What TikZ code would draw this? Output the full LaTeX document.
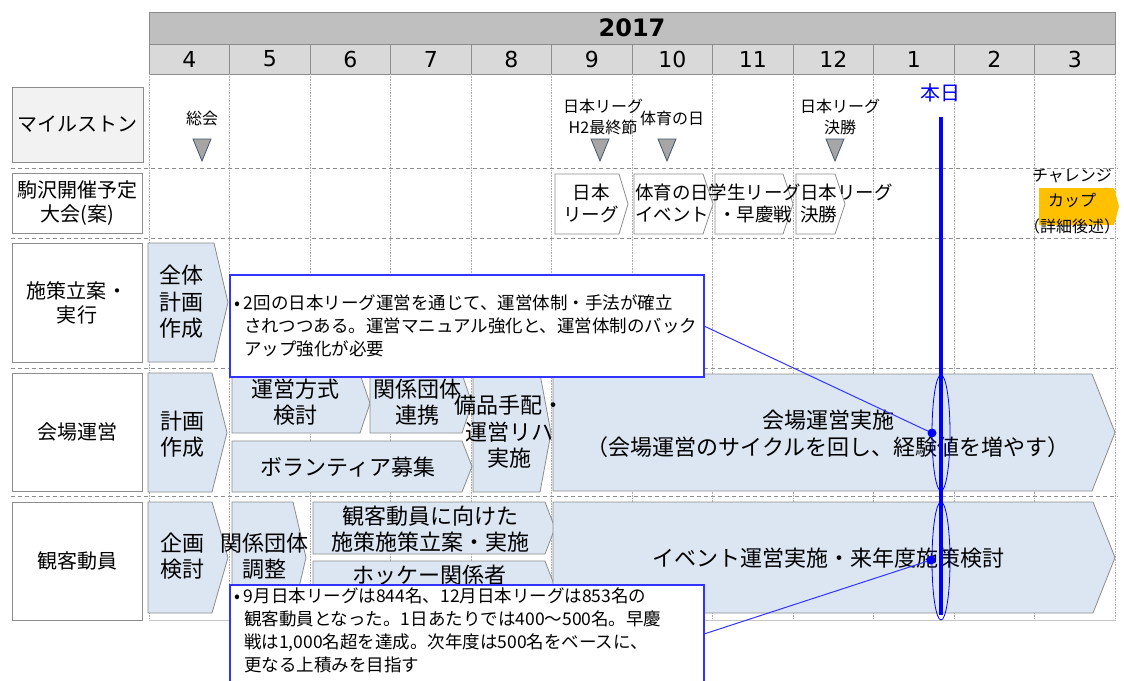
\documentclass[tikz,border=0pt]{standalone}
\usepackage{fontspec}
\setmainfont{Noto Sans CJK JP}
\newfontfamily\numfont{DejaVu Sans}
\usepackage{tikz}
\usetikzlibrary{positioning,shapes.geometric}

\definecolor{yearfill}{HTML}{BFBFBF}
\definecolor{monthfill}{HTML}{D9D9D9}
\definecolor{framegray}{HTML}{8C8C8C}
\definecolor{phasefill}{HTML}{DCE6F2}
\definecolor{cupfill}{HTML}{FFC000}
\definecolor{marker}{HTML}{A6A6A6}
\definecolor{markerline}{HTML}{44546A}
\definecolor{calloutblue}{HTML}{3333FF}

\newcommand{\fs}[2]{\fontsize{#1}{#2}\selectfont}
% bar with a pointed right end: [style]{x}{y}{width}{height}{tip depth}
\newcommand{\phasebar}[6][phase]{%
  \draw[#1] (#2,#3) -- ++({#4-#6},0) -- ++(#6,{#5/2}) -- ++(-#6,{#5/2}) -- ++({#6-#4},0) -- cycle;}

\begin{document}
\begin{tikzpicture}[x=1pt, y=-1pt, every node/.style={inner sep=0pt, outer sep=0pt}]
        \tikzstyle{yearcell}=[rectangle, draw=framegray, fill=yearfill, minimum width=966pt, minimum height=32pt, font=\numfont\bfseries\fs{24}{24}];
        \tikzstyle{monthcell}=[rectangle, draw=framegray, fill=monthfill, minimum width=80.5pt, minimum height=30pt, font=\numfont\fs{22}{22}];
        \tikzstyle{rowlabel}=[rectangle, draw=framegray, line width=0.8pt, anchor=north west, align=center, font=\fs{20}{24}];
        \tikzstyle{gridline}=[framegray!70, densely dotted, line width=0.6pt];
        \tikzstyle{rowsep}=[framegray, dash pattern=on 4pt off 3pt, line width=0.8pt];
        \tikzstyle{phase}=[draw=framegray, fill=phasefill, line width=0.8pt];
        \tikzstyle{eventbar}=[draw=framegray, fill=white, line width=0.8pt];
        \tikzstyle{cupbar}=[draw=none, fill=cupfill];
        \tikzstyle{phasetext}=[align=center, font=\fs{22}{26.5}];
        \tikzstyle{eventtext}=[align=center, font=\fs{18.5}{22}];
        \tikzstyle{stonetext}=[align=center, font=\fs{16}{21}];
        \tikzstyle{stone}=[draw=markerline, fill=marker, line width=0.8pt];
        \tikzstyle{callout}=[rectangle, draw=calloutblue, fill=white, line width=1.2pt, anchor=north west, align=left, inner xsep=4pt, inner ysep=3pt, font=\fs{17.5}{23}];
        \tikzstyle{focus}=[ellipse, draw=blue, line width=0.8pt, minimum width=18pt];
        \tikzstyle{link}=[calloutblue, line width=1pt];

        \useasboundingbox (0,0) rectangle (1124,680);

        % header
        \node [yearcell] (year) at (632,28) {2017};
        \foreach \m [count=\i from 0] in {4,5,6,7,8,9,10,11,12,1,2,3}
            \node [monthcell] (mon\i) at ({149+80.5*\i+40.25},59) {\m};

        % grid
        \foreach \i in {0,...,12}
            \draw [gridline] ({149+80.5*\i},74) -- ({149+80.5*\i},620);
        \draw [framegray!50, line width=0.8pt] (149,620) -- (1115,620);
        \foreach \y in {168,238,368,496}
            \draw [rowsep] (11,\y) -- (1118,\y);

        % row labels
        \node [rowlabel, fill=black!5, minimum width=131pt, minimum height=75pt] (milestone) at (12,87) {マイルストン};
        \node [rowlabel, minimum width=130pt, minimum height=60pt] (venues) at (12,173) {駒沢開催予定\\大会(案)};
        \node [rowlabel, minimum width=130pt, minimum height=119pt] (planning) at (12,243) {施策立案・\\実行};
        \node [rowlabel, minimum width=130pt, minimum height=118pt] (venueops) at (12,373) {会場運営};
        \node [rowlabel, minimum width=130pt, minimum height=118pt] (audience) at (12,502) {観客動員};

        % milestones
        \foreach \x in {202,600,667,835}
            \draw [stone] ({\x-9},139) -- ({\x+9},139) -- (\x,161) -- cycle;
        \node [stonetext] (meeting) at (202,118) {総会};
        \node [stonetext] (h2final) at (603,117) {日本リーグ\\H2最終節};
        \node [stonetext] (sportsday) at (672,118) {体育の日};
        \node [stonetext] (leaguefinal) at (840,117) {日本リーグ\\決勝};

        % planned events
        \phasebar[eventbar]{555}{174}{73}{60}{9}
        \phasebar[eventbar]{634}{174}{79}{60}{10}
        \phasebar[eventbar]{715}{174}{78}{60}{10}
        \phasebar[eventbar]{796}{174}{49}{60}{10}
        \phasebar[cupbar]{1039}{188}{80}{37}{5}
        \node [eventtext] (ev1) at (591,203) {日本\\リーグ};
        \node [eventtext] (ev2) at (672,203) {体育の日\\イベント};
        \node [eventtext] (ev3) at (755,203) {学生リーグ\\・早慶戦};
        \node [eventtext, anchor=west, align=left] (ev4) at (800,203) {日本リーグ\\決勝};
        \node [align=center, font=\fs{16}{25.5}] (cup) at (1072,201) {チャレンジ\\カップ\\（詳細後述）};

        % phases
        \phasebar{148}{243}{80}{119}{14}
        \phasebar{148}{373}{79}{119}{15}
        \phasebar{232}{374}{138}{59}{10}
        \phasebar{370}{374}{102}{59}{10}
        \phasebar{232}{441}{240}{51}{10}
        \phasebar{473}{374}{78}{118}{11}
        \phasebar{553}{374}{562}{117}{23}
        \phasebar{148}{502}{80}{111}{16}
        \phasebar{232}{502}{74}{111}{13}
        \phasebar{313}{502}{242}{52}{10}
        \phasebar{313}{561}{242}{52}{10}
        \phasebar{553}{502}{562}{111}{22}

        \node [phasetext] (overall) at (181,302) {全体\\計画\\作成};
        \node [phasetext] (opsplan) at (182,434) {計画\\作成};
        \node [phasetext] (opsmethod) at (295,402) {運営方式\\検討};
        \node [phasetext] (opslink) at (417,402) {関係団体\\連携};
        \node [phasetext] (volunteer) at (348,467) {ボランティア募集};
        \node [phasetext] (rehearsal) at (509,432) {備品手配・\\運営リハ\\実施};
        \node [phasetext] (opsrun) at (828,434) {会場運営実施\\（会場運営のサイクルを回し、経験値を増やす）};
        \node [phasetext] (audplan) at (182,556) {企画\\検討};
        \node [phasetext] (audlink) at (264,556) {関係団体\\調整};
        \node [phasetext] (audmeasure) at (430,529) {観客動員に向けた\\施策施策立案・実施};
        \node [phasetext] (hockey) at (429,575) {ホッケー関係者};
        \node [phasetext] (audrun) at (828,558) {イベント運営実施・来年度施策検討};

        % today
        \coordinate (todaytop) at (941,117);
        \coordinate (todaybot) at (941,615);
        \draw [blue, line width=4pt] (todaytop) -- (todaybot);
        \node [blue, font=\fs{20}{20}] (todaylabel) at (940,93) {本日};
        \node [focus, minimum height=116pt] (focusops) at (941,433) {};
        \node [focus, minimum height=118pt] (focusaud) at (941,561) {};

        % notes
        \node [callout, text width=466pt, minimum height=102pt] (note1) at (230,275) {\makebox[10pt][l]{•}2回の日本リーグ運営を通じて、運営体制・手法が確立\\\hspace*{10pt}されつつある。運営マニュアル強化と、運営体制のバック\\\hspace*{10pt}アップ強化が必要};
        \node [callout] (note2) at (230,585) {\parbox[t][108pt][t]{466pt}{\makebox[10pt][l]{•}9月日本リーグは844名、12月日本リーグは853名の\\\hspace*{10pt}観客動員となった。1日あたりでは400～500名。早慶\\\hspace*{10pt}戦は1,000名超を達成。次年度は500名をベースに、\\\hspace*{10pt}更なる上積みを目指す}};

        \coordinate (dot1) at (932,433);
        \coordinate (dot2) at (931,560);
        \draw [link] (note1.east) -- (dot1);
        \draw [link] ([yshift=8pt]note2.east) -- (dot2);
        \fill [blue] (dot1) circle (4.5pt);
        \fill [blue] (dot2) circle (4.5pt);
\end{tikzpicture}
\end{document}
